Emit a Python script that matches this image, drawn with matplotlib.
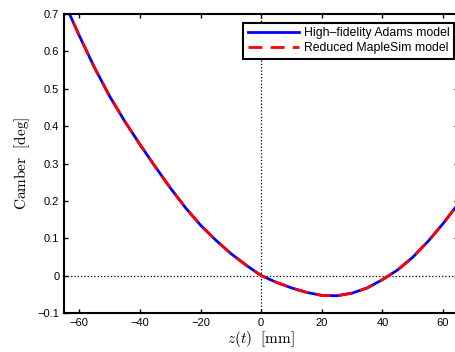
import numpy as np
import matplotlib
matplotlib.use('Agg')
import matplotlib.pyplot as plt

plt.rcParams['mathtext.fontset'] = 'cm'
plt.rcParams['font.family'] = ['Liberation Sans', 'DejaVu Sans']

# z(t) [mm] and camber [deg]
z = [-65, -60, -55, -50, -45, -40, -35, -30, -25, -20, -15, -10, -5, 0,
     5, 10, 15, 20, 25, 30, 35, 40, 45, 50, 55, 60, 65]
camber_adams = [0.732, 0.642, 0.557, 0.480, 0.413, 0.351, 0.292, 0.235, 0.182, 0.135,
                0.095, 0.059, 0.028, 0.0, -0.018, -0.033, -0.045, -0.053, -0.054,
                -0.047, -0.033, -0.011, 0.015, 0.049, 0.091, 0.139, 0.192]
camber_maplesim = [0.732, 0.642, 0.557, 0.480, 0.413, 0.351, 0.292, 0.235, 0.182, 0.135,
                   0.095, 0.059, 0.028, 0.0, -0.018, -0.033, -0.045, -0.053, -0.054,
                   -0.047, -0.033, -0.011, 0.015, 0.049, 0.091, 0.139, 0.192]

fig = plt.figure(figsize=(4.55, 3.52), dpi=100)
ax = fig.add_axes([0.141, 0.111, 0.866, 0.849])

ax.axvline(0, color='black', linestyle=':', linewidth=0.9)
ax.axhline(0, color='black', linestyle=':', linewidth=0.9)
ax.plot(z, camber_adams, color='blue', linewidth=2, label='High\u2013fidelity Adams model')
ax.plot(z, camber_maplesim, color='red', linewidth=2, linestyle=(0, (5, 3)),
        label='Reduced MapleSim model')

ax.set_xlim(-65, 65)
ax.set_ylim(-0.1, 0.7)
ax.set_xticks(np.arange(-60, 61, 20))
ax.set_yticks(np.arange(-0.1, 0.71, 0.1))
ax.set_yticklabels(['\u22120.1', '0', '0.1', '0.2', '0.3', '0.4', '0.5', '0.6', '0.7'])
ax.set_xticklabels(['\u221260', '\u221240', '\u221220', '0', '20', '40', '60'])
ax.tick_params(direction='in', top=True, right=True, labelsize=8, length=3, width=1)
for s in ax.spines.values():
    s.set_linewidth(1.5)

ax.set_xlabel(r'$z(t)\ \ [\mathrm{mm}]$', fontsize=11, labelpad=1)
ax.set_ylabel(r'$\mathrm{Camber}\ \ [\mathrm{deg}]$', fontsize=11, labelpad=4)

leg = ax.legend(loc='upper right', fontsize=8.8, fancybox=False, framealpha=1,
                edgecolor='black', borderpad=0.35, handlelength=4.2, handletextpad=0.4,
                labelspacing=0.3, borderaxespad=0.2, bbox_to_anchor=(0.995, 0.98))
leg.get_frame().set_linewidth(1.5)

plt.savefig('out.png', dpi=100)
